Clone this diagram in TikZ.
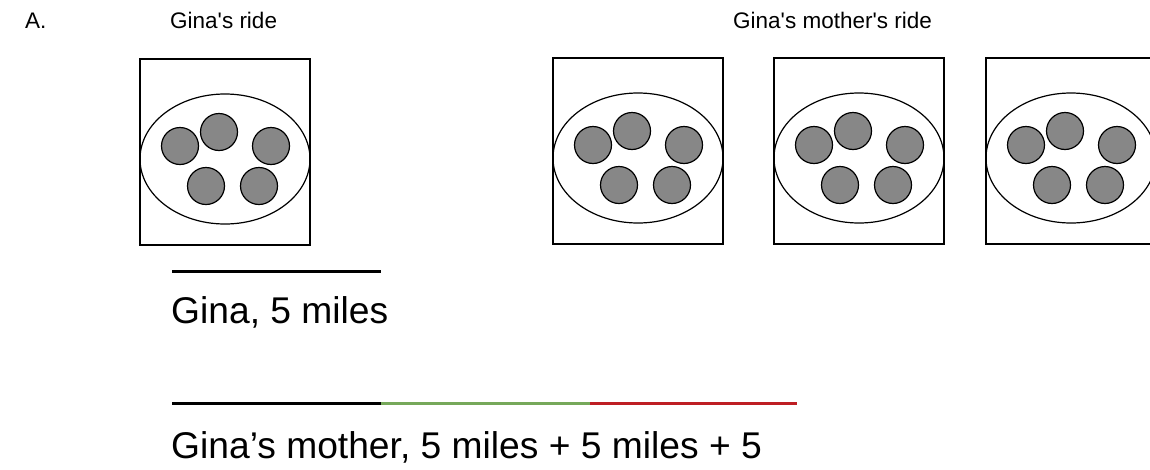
\documentclass[tikz,border=0pt]{standalone}
\usepackage{fontspec}
\setmainfont{Liberation Sans}[Ligatures=TeXOff]
\usetikzlibrary{shapes.geometric, positioning}
\definecolor{ridegreen}{RGB}{118,168,90}
\definecolor{ridered}{RGB}{190,30,35}

\begin{document}
\begin{tikzpicture}[x=1pt, y=-1pt,
                    every node/.style={inner sep=0pt},
                    frame/.style={draw, line width=1.4pt, minimum width=170pt, minimum height=186pt},
                    oval/.style={draw, ellipse, line width=1.2pt, minimum width=170pt, minimum height=130pt},
                    dot/.style={draw, circle, fill=black!47, line width=1.2pt, minimum size=37pt},
                    title/.style={font=\fontsize{22.5}{27}\selectfont, anchor=base west},
                    caption/.style={font=\fontsize{37.2}{44}\selectfont, anchor=base west},
                    track/.style={line width=3pt}]
\clip (0,0) rectangle (1150,469);
\fill[white] (0,0) rectangle (1150,469);

\node[title] (part) at (25,28) {A.};
\node[title] (ginatitle) at (170,28) {Gina's ride};
\node[title] (mothertitle) at (733,28) {Gina's mother's ride};

\foreach \name/\x/\y in {gina/225/152, mothera/638/151, motherb/859/151, motherc/1071/151} {
  \node[frame] (\name) at (\x,\y) {};
  \node[oval] (\name-oval) at (\x,\y+7) {};
  \foreach \dx/\dy [count=\k] in {-45/-13, -6/-27, 46/-13, -19/27, 34/27}
    \node[dot] (\name-dot\k) at ([shift={(\dx,\dy)}]\name-oval) {};
}

\coordinate (g0) at (172,271);
\coordinate (g1) at (381,271);
\draw[track] (g0) -- (g1);
\node[caption] (ginamiles) at (171,323) {Gina, 5 miles};

\coordinate (m0) at (172,403);
\coordinate (m1) at (381,403);
\coordinate (m2) at (590,403);
\coordinate (m3) at (797,403);
\draw[track] (m0) -- (m1);
\draw[track, ridegreen] (m1) -- (m2);
\draw[track, ridered] (m2) -- (m3);
\node[caption] (mothermiles) at (171,458) {Gina’s mother, 5 miles + 5 miles + 5};
\end{tikzpicture}
\end{document}
